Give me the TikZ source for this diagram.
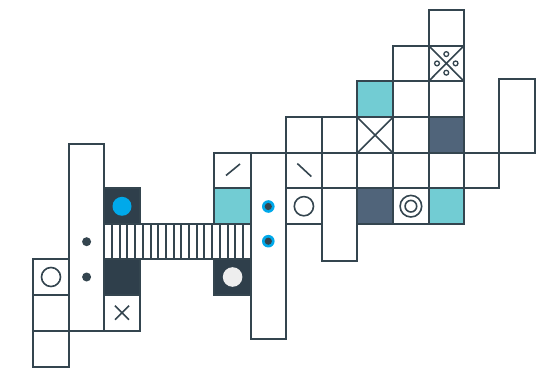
\documentclass[tikz,border=0pt]{standalone}
\definecolor{ln}{RGB}{52,69,79}
\definecolor{dkc}{RGB}{47,63,75}
\definecolor{slate}{RGB}{80,100,122}
\definecolor{teal}{RGB}{114,204,211}
\definecolor{bluec}{RGB}{0,169,234}
\definecolor{lightc}{RGB}{238,238,238}
\begin{document}
\begin{tikzpicture}[x=1pt,y=-1pt,line width=2pt,
  cell/.style={draw=ln,fill=white},
  dark/.style={draw=ln,fill=dkc},
  slatecell/.style={draw=ln,fill=slate},
  tealcell/.style={draw=ln,fill=teal},
  sym/.style={draw=ln,line width=1.6pt},
  dotc/.style={fill=ln,draw=none}]
\useasboundingbox (0,0) rectangle (542,369);
% ---------- left group ----------
\draw[cell] (33,259.3) rectangle (69,294.7);
\draw[cell] (33,294.7) rectangle (69,330.7);
\draw[cell] (33,330.7) rectangle (69,366.7);
\draw[sym] (51,277) circle (9.5);
\draw[cell] (69,144.3) rectangle (104.3,330.7);
\fill[dotc] (86.6,241.7) circle (4.5);
\fill[dotc] (86.6,277) circle (4.5);
\draw[dark] (104.3,188) rectangle (140,224);
\fill[bluec] (122,206.3) circle (9.5);
\draw[dark] (104.3,259.3) rectangle (140,294.7);
\draw[cell] (104.3,294.7) rectangle (140,330.7);
\draw[sym] (115,305.7) -- (129,319.7) (115,319.7) -- (129,305.7);
% striped band
\draw[cell] (104.3,224) rectangle (250.7,259.3);
\foreach \k in {1,...,18} \draw[ln] ({104.3+\k*7.705},224) -- ({104.3+\k*7.705},259.3);
\draw[cell] (214.3,152.7) rectangle (250.7,188.3);
\draw[sym] (226,175.5) -- (240,164);
\draw[tealcell] (214.3,188.3) rectangle (250.7,224);
\draw[dark] (214.3,259.3) rectangle (250.7,294.7);
\fill[lightc] (232.6,277) circle (9.8);
\draw[cell] (250.7,153) rectangle (286,338.6);
\fill[bluec] (268.3,206.5) circle (6.3);
\fill[dotc] (268.3,206.5) circle (3.6);
\fill[bluec] (268.3,241.2) circle (6.3);
\fill[dotc] (268.3,241.2) circle (3.6);
% ---------- right group ----------
\draw[cell] (428.7,10) rectangle (464,45.7);
\draw[cell] (393,45.7) rectangle (428.7,81.2);
\draw[cell] (428.7,45.7) rectangle (464,81.2);
\draw[sym] (428.7,45.7) -- (464,81.2) (428.7,81.2) -- (464,45.7);
\foreach \dx/\dy in {0/-9.3,0/9.3,-9.3/0,9.3/0}
  {\fill[white] ({446.3+\dx},{63.4+\dy}) circle (2.8);
   \draw[ln,line width=1.3pt] ({446.3+\dx},{63.4+\dy}) circle (2.4);}
\draw[tealcell] (357.3,81.2) rectangle (393,117.3);
\draw[cell] (393,81.2) rectangle (428.7,117.3);
\draw[cell] (428.7,81.2) rectangle (464,117.3);
\draw[cell] (499.3,79) rectangle (535,153);
% row 117-153
\draw[cell] (286,117.3) rectangle (321.7,153);
\draw[cell] (321.7,117.3) rectangle (357.3,153);
\draw[cell] (357.3,117.3) rectangle (393,153);
\draw[sym] (357.3,117.3) -- (393,153) (357.3,153) -- (393,117.3);
\draw[cell] (393,117.3) rectangle (428.7,153);
\draw[slatecell] (428.7,117.3) rectangle (464,153);
% row 153-188
\draw[cell] (286,153) rectangle (321.7,188.3);
\draw[sym] (297.3,163.5) -- (311.3,176.5);
\draw[cell] (321.7,153) rectangle (357.3,188.3);
\draw[cell] (357.3,153) rectangle (393,188.3);
\draw[cell] (393,153) rectangle (428.7,188.3);
\draw[cell] (428.7,153) rectangle (464,188.3);
\draw[cell] (464,153) rectangle (499.3,188.3);
% row 188-224
\draw[cell] (286,188.3) rectangle (321.7,224);
\draw[sym] (303.9,206.2) circle (9.6);
\draw[cell] (321.7,188.3) rectangle (357.3,260.8);
\draw[slatecell] (357.3,188.3) rectangle (393,224);
\draw[cell] (393,188.3) rectangle (428.7,224);
\draw[sym] (410.9,206.2) circle (10.8);
\draw[sym] (410.9,206.2) circle (5.8);
\draw[tealcell] (428.7,188.3) rectangle (464,224);
\end{tikzpicture}
\end{document}
